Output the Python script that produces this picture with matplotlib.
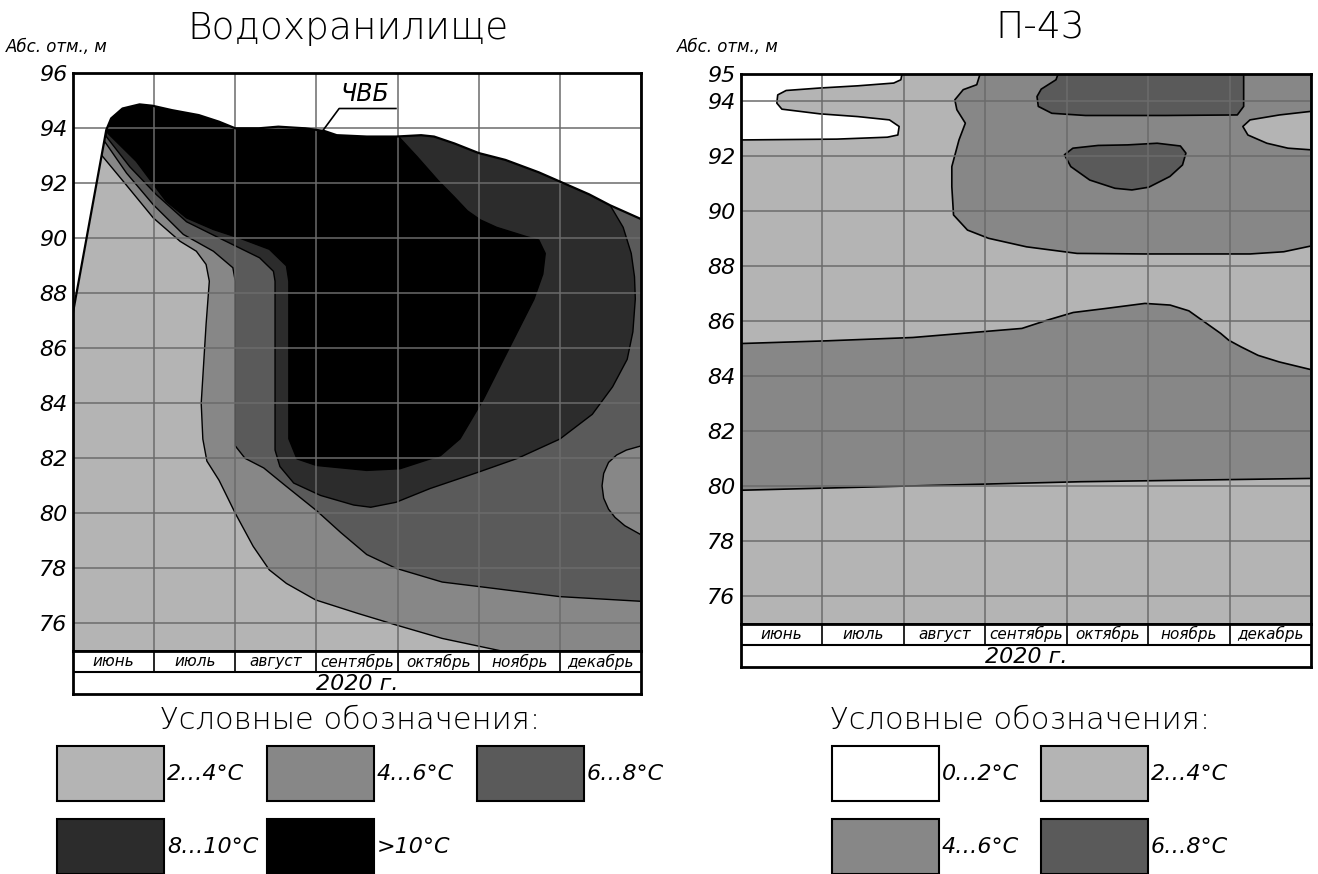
import numpy as np
import matplotlib
matplotlib.use('Agg')
import matplotlib.pyplot as plt
from matplotlib.patches import Rectangle

plt.rcParams['font.family'] = ['DejaVu Sans']

# colours of the temperature classes
C_0_2 = '#ffffff'
C_2_4 = '#b4b4b4'
C_4_6 = '#878787'
C_6_8 = '#5a5a5a'
C_8_10 = '#2c2c2c'
C_10 = '#000000'
GRID = '#6b6b6b'

months = ['июнь', 'июль', 'август', 'сентябрь', 'октябрь', 'ноябрь', 'декабрь']
year_label = '2020 г.'
Y_BOTTOM = 75

# ---------------- Водохранилище (x = months from 1 June, y = abs. elevation, m)
res_ticks = [96, 94, 92, 90, 88, 86, 84, 82, 80, 78, 76]
# water surface (ЧВБ), lower side of it is filled
res_surf_x = [0.0, 0.41, 0.47, 0.61, 0.82, 0.98, 1.22, 1.55, 1.80, 2.0, 2.29, 2.53, 2.86, 3.1,
              3.25, 3.62, 3.98, 4.29, 4.45, 4.70, 5.0, 5.33, 5.74, 6.05, 6.36, 6.62, 7.0]
res_surf_y = [87.3, 93.94, 94.36, 94.72, 94.87, 94.82, 94.66, 94.48, 94.24, 94.0, 94.0, 94.06, 94.0, 93.9,
              93.75, 93.7, 93.7, 93.75, 93.7, 93.45, 93.1, 92.85, 92.4, 92.0, 91.6, 91.2, 90.7]
# 4..6 area (right of the 2..4 zone)
res_46_x = [0.25, 0.35, 0.62, 0.99, 1.32, 1.52, 1.64, 1.68, 1.64, 1.58, 1.60, 1.65, 1.80, 2.00, 2.22,
            2.42, 2.63, 2.99, 3.51, 3.98, 4.55, 5.27, 7.0, 7.0, 0.25]
res_46_y = [95.5, 93.03, 92.07, 90.74, 89.89, 89.53, 89.05, 88.44, 86.87, 84.0, 82.7, 81.9, 81.2, 80.0, 78.8,
            77.94, 77.45, 76.85, 76.36, 75.94, 75.45, 75.0, 75.0, 96.0, 96.0]
# 6..8 area
res_68_x = [0.30, 0.39, 0.66, 0.99, 1.36, 1.73, 1.97, 2.00, 2.00, 2.12, 2.35, 2.62, 3.00, 3.30, 3.62,
            3.98, 4.55, 5.02, 6.00, 7.00, 7.00, 0.30]
res_68_y = [95.5, 93.52, 92.37, 91.22, 90.14, 89.53, 88.93, 88.44, 82.45, 82.0, 81.65, 81.0, 80.1, 79.3, 78.5,
            78.0, 77.5, 77.33, 76.97, 76.8, 96.0, 96.0]
# 4..6 lens at the right edge
res_lens_x = [7.0, 6.82, 6.70, 6.60, 6.54, 6.52, 6.54, 6.60, 6.68, 6.80, 7.0]
res_lens_y = [82.45, 82.30, 82.12, 81.85, 81.45, 81.0, 80.55, 80.15, 79.85, 79.55, 79.22]
# 8..10 area
res_810_x = [0.33, 0.41, 0.70, 1.03, 1.40, 1.81, 2.30, 2.47, 2.49, 2.49, 2.55, 2.72, 3.05, 3.46, 3.67,
             3.98, 4.40, 5.00, 5.48, 6.00, 6.40, 6.65, 6.83, 6.90, 6.93, 6.92, 6.88, 6.78, 6.62, 6.50,
             6.50, 0.33]
res_810_y = [95.5, 93.70, 92.60, 91.58, 90.60, 90.00, 89.29, 88.80, 88.44, 82.30, 81.70, 81.10, 80.65, 80.30, 80.22,
             80.40, 80.90, 81.50, 82.00, 82.70, 83.60, 84.60, 85.60, 86.60, 87.80, 88.60, 89.45, 90.40, 91.20, 92.50,
             96.0, 96.0]
# >10 area
res_10_x = [0.36, 0.43, 0.78, 1.15, 1.40, 1.73, 2.06, 2.42, 2.63, 2.66, 2.66, 2.76, 3.00, 3.62, 4.03,
            4.53, 4.77, 5.06, 5.39, 5.68, 5.79, 5.82, 5.74, 5.59, 5.22, 5.02, 4.86, 4.70, 4.50, 4.24,
            4.03, 3.98, 3.90, 0.36]
res_10_y = [95.5, 93.82, 92.80, 91.34, 90.74, 90.32, 90.00, 89.60, 89.00, 88.44, 82.71, 81.98, 81.74, 81.56, 81.62,
            82.10, 82.71, 84.16, 86.09, 87.78, 88.70, 89.45, 89.94, 90.06, 90.40, 90.67, 91.00, 91.50, 92.10, 92.97,
            93.64, 93.90, 96.0, 96.0]
# ЧВБ label leader: surface point -> underline
uvb_x = [3.08, 3.28, 3.98]
uvb_y = [93.92, 94.72, 94.72]

# ---------------- П-43
p43_ticks = [95, 94, 92, 90, 88, 86, 84, 82, 80, 78, 76]
p43_02_x = [0.0, 1.978, 1.963, 1.875, 1.434, 0.968, 0.554, 0.451, 0.440, 0.502, 0.968, 1.434, 1.823,
            1.942, 1.926, 1.797, 1.176, 0.0]
p43_02_y = [95.0, 95.0, 94.79, 94.67, 94.57, 94.49, 94.40, 94.24, 93.94, 93.72, 93.55, 93.45, 93.33,
            93.09, 92.78, 92.70, 92.63, 92.60]
p43_46_x = [2.936, 2.895, 2.729, 2.626, 2.651, 2.755, 2.677, 2.589, 2.589, 2.610, 2.781, 3.040, 3.506,
            4.127, 4.956, 6.251, 6.665, 7.0, 7.0]
p43_46_y = [95.0, 94.61, 94.43, 94.06, 93.70, 93.21, 92.60, 91.63, 90.90, 89.87, 89.32, 89.02, 88.71,
            88.47, 88.45, 88.45, 88.53, 88.74, 95.0]
p43_24_x = [7.0, 6.717, 6.458, 6.225, 6.163, 6.251, 6.613, 7.0]
p43_24_y = [92.24, 92.30, 92.48, 92.78, 93.09, 93.33, 93.51, 93.64]
p43_68a_x = [3.894, 3.868, 3.687, 3.635, 3.651, 3.817, 4.231, 5.215, 6.095, 6.173, 6.173]
p43_68a_y = [95.0, 94.79, 94.45, 94.18, 93.82, 93.57, 93.49, 93.49, 93.51, 93.82, 95.0]
p43_68b_x = [3.972, 4.050, 4.283, 4.593, 4.801, 5.008, 5.267, 5.422, 5.464, 5.396, 5.111, 4.749, 4.386, 4.076]
p43_68b_y = [92.06, 91.63, 91.14, 90.84, 90.78, 90.88, 91.27, 91.69, 92.12, 92.38, 92.48, 92.42, 92.40, 92.30]
p43_band_top_x = [0.0, 1.07, 2.11, 3.45, 3.76, 4.08, 4.49, 4.96, 5.27, 5.50, 5.89, 5.99, 6.14, 6.35, 6.61, 7.0]
p43_band_top_y = [85.19, 85.29, 85.41, 85.74, 86.04, 86.32, 86.47, 86.65, 86.59, 86.38, 85.56, 85.31, 85.07,
                  84.76, 84.52, 84.24]
p43_band_bot_x = [7.0, 4.17, 2.0, 0.0]
p43_band_bot_y = [80.28, 80.16, 80.0, 79.85]

res_legend = [('2…4°C', C_2_4), ('4…6°C', C_4_6), ('6…8°C', C_6_8), ('8…10°C', C_8_10), ('>10°C', C_10)]
p43_legend = [('0…2°C', C_0_2), ('2…4°C', C_2_4), ('4…6°C', C_4_6), ('6…8°C', C_6_8)]

W, H = 1318, 874
fig = plt.figure(figsize=(W / 100, H / 100), dpi=100)


def px_axes(x0, y0, x1, y1):
    # box in pixels, origin top-left
    return fig.add_axes([x0 / W, 1 - y1 / H, (x1 - x0) / W, (y1 - y0) / H])


def style_panel(ax, ticks):
    ax.set_xlim(0, 7)
    ax.set_ylim(Y_BOTTOM, ticks[0])
    ax.set_xticks(range(8))
    ax.set_xticklabels([])
    ax.set_yticks(ticks)
    ax.set_yticklabels([str(t) for t in ticks], fontstyle='italic', fontsize=16)
    ax.tick_params(length=0, pad=4)
    ax.grid(True, color=GRID, lw=1.1)
    ax.set_axisbelow(False)
    for s in ax.spines.values():
        s.set_linewidth(2)
        s.set_zorder(5)


def month_table(tax):
    tax.set_xlim(0, 7)
    tax.set_ylim(0, 2)
    tax.set_xticks([])
    tax.set_yticks([])
    for s in tax.spines.values():
        s.set_linewidth(2)
    tax.axhline(1, color='black', lw=1.5)
    tax.vlines(range(1, 7), 1, 2, color='black', lw=1.2)
    for i, m in enumerate(months):
        tax.text(i + 0.5, 1.5, m, ha='center', va='center', fontsize=11, fontstyle='italic')
    tax.text(3.5, 0.48, year_label, ha='center', va='center', fontsize=16, fontstyle='italic')


# ---- left panel
ax1 = px_axes(73, 73.3, 641, 650.8)
style_panel(ax1, res_ticks)
water = ax1.fill_between(res_surf_x, res_surf_y, Y_BOTTOM, color=C_2_4, lw=0, zorder=1)
clip = water.get_paths()[0]
for xs, ys, c in [(res_46_x, res_46_y, C_4_6), (res_68_x, res_68_y, C_6_8),
                  (res_lens_x, res_lens_y, C_4_6), (res_810_x, res_810_y, C_8_10),
                  (res_10_x, res_10_y, C_10)]:
    p, = ax1.fill(xs, ys, fc=c, ec='black', lw=1.0, zorder=1.5, joinstyle='round')
    p.set_clip_path(clip, ax1.transData)
ax1.plot(res_surf_x, res_surf_y, color='black', lw=1.6, zorder=3, solid_joinstyle='round')
ax1.plot(uvb_x, uvb_y, color='black', lw=1.2, zorder=3)
ax1.text(uvb_x[1] + 0.02, uvb_y[1] + 0.08, 'ЧВБ', fontsize=17, fontstyle='italic',
         ha='left', va='bottom', zorder=4)
month_table(px_axes(73, 650.8, 641, 694))

# ---- right panel
ax2 = px_axes(741, 74, 1311, 623.5)
style_panel(ax2, p43_ticks)
ax2.set_facecolor(C_2_4)
for xs, ys, c in [(p43_02_x, p43_02_y, C_0_2), (p43_46_x, p43_46_y, C_4_6),
                  (p43_24_x, p43_24_y, C_2_4), (p43_68a_x, p43_68a_y, C_6_8),
                  (p43_68b_x, p43_68b_y, C_6_8),
                  (p43_band_top_x + p43_band_bot_x, p43_band_top_y + p43_band_bot_y, C_4_6)]:
    ax2.fill(xs, ys, fc=c, ec='black', lw=1.2, zorder=1.5, joinstyle='round')
month_table(px_axes(741, 623.5, 1311, 667))

# ---- titles, captions, legends (pixel overlay)
lax = fig.add_axes([0, 0, 1, 1], zorder=-1)
lax.set_xlim(0, W)
lax.set_ylim(H, 0)
lax.axis('off')
lax.text(348, 28, 'Водохранилище', fontsize=27, fontweight='light', ha='center', va='center')
lax.text(1040, 28, 'П-43', fontsize=27, fontweight='light', ha='center', va='center')
lax.text(6, 47, 'Абс. отм., м', fontsize=12, fontstyle='italic', ha='left', va='center')
lax.text(677, 47, 'Абс. отм., м', fontsize=12, fontstyle='italic', ha='left', va='center')
lax.text(350, 720, 'Условные обозначения:', fontsize=22, fontweight='light', ha='center', va='center')
lax.text(1020, 720, 'Условные обозначения:', fontsize=22, fontweight='light', ha='center', va='center')


def draw_legend(entries, x0, ncol, dx, dy):
    for k, (lbl, c) in enumerate(entries):
        bx = x0 + (k % ncol) * dx
        by = 746 + (k // ncol) * dy
        lax.add_patch(Rectangle((bx, by), 107, 55, fc=c, ec='black', lw=1.5))
        lax.text(bx + 110, by + 28, lbl, fontsize=16, fontstyle='italic', ha='left', va='center')


draw_legend(res_legend, 57, 3, 210, 73)
draw_legend(p43_legend, 832, 2, 209, 73)

fig.savefig('out.png', dpi=100)
